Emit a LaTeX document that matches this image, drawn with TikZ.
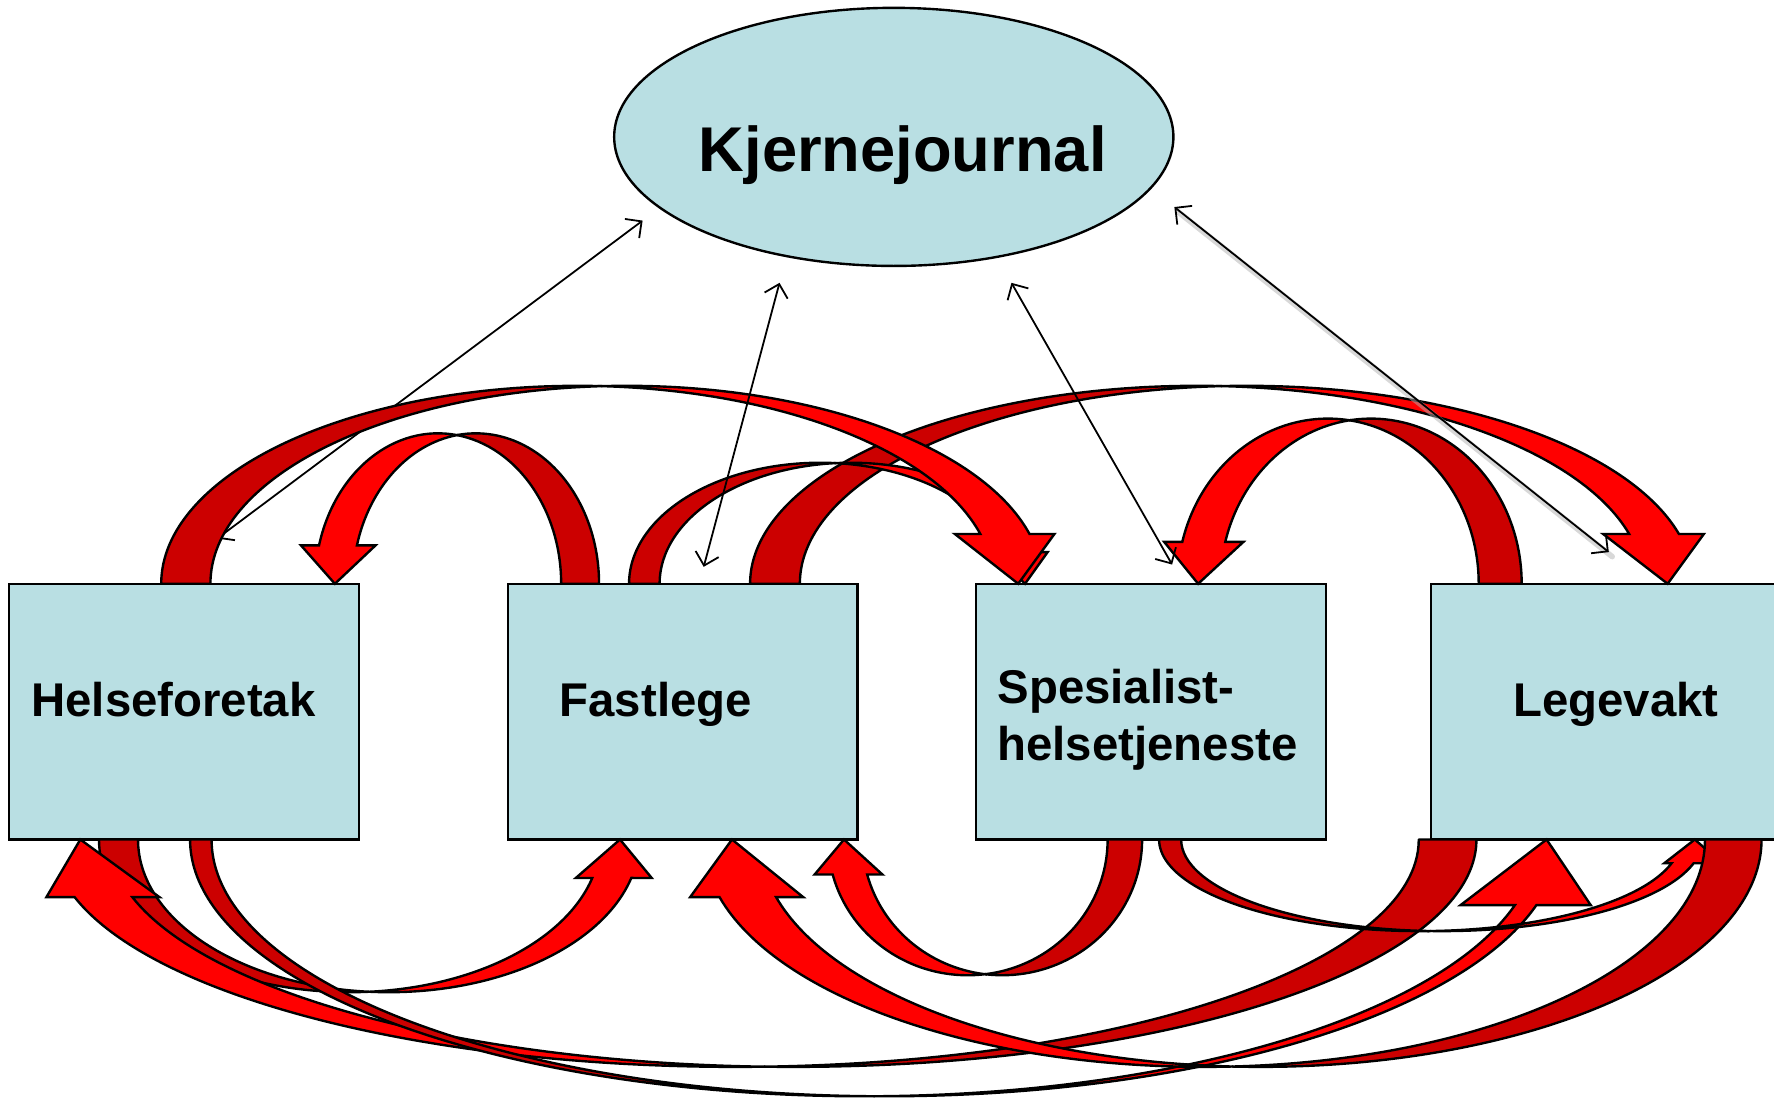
\documentclass[tikz,border=0pt]{standalone}
\usepackage{fontspec}
\setmainfont{Liberation Sans}
\usetikzlibrary{arrows.meta,shapes.geometric}
\definecolor{boxblue}{RGB}{185,223,227}
\definecolor{dred}{RGB}{204,0,0}
\definecolor{bred}{RGB}{255,0,0}

% curved block arrow: two equal ellipses (centre height = box edge yb),
% shifted horizontally by the band thickness d
\pgfkeys{/carr/.is family}
\pgfkeys{/carr/.cd,
  ya/.store in=\cYa, yb/.store in=\cYb,
  bi/.store in=\cBi, fo/.store in=\cFo, d/.store in=\cD, yh/.store in=\cYh,
  ho/.store in=\cHo, hi/.store in=\cHi, tip/.store in=\cTip}

\newcommand\carrow[1]{%
  \pgfkeys{/carr/.cd,#1}%
  \pgfmathsetmacro\cRy{abs(\cYa-\cYb)}%
  \pgfmathsetmacro\cSig{ifthenelse(\cYa<\cYb,-1,1)}%
  \pgfmathsetmacro\cS{ifthenelse(\cBi>\cFo,1,-1)}%
  \pgfmathsetmacro\cT{asin(abs(\cYh-\cYb)/\cRy)}%
  \pgfmathsetmacro\cR{abs(\cBi-\cFo)/(1+cos(\cT))}%
  \pgfmathsetmacro\cBo{\cBi+(\cS)*\cD}%
  \pgfmathsetmacro\cFi{\cFo+(\cS)*\cD}%
  \pgfmathsetmacro\cCp{\cBi-(\cS)*\cR}%
  \pgfmathsetmacro\cXx{\cCp+(\cS)*\cD/2}%
  \pgfmathsetmacro\cAxp{(\cSig)*acos((\cS)*\cD/(2*\cR))}%
  \pgfmathsetmacro\cAxq{(\cSig)*acos(-1*(\cS)*\cD/(2*\cR))}%
  \pgfmathsetmacro\cXy{\cYb+\cRy*sin(\cAxp)}%
  \pgfmathsetmacro\cAb{ifthenelse(\cS>0,0,(\cSig)*180)}%
  \pgfmathsetmacro\cAf{ifthenelse(\cS>0,(\cSig)*(180-\cT),(\cSig)*\cT)}%
  \filldraw[backpart] (\cBo,\cYb)
     arc[start angle=\cAb, end angle=\cAxq, x radius=\cR, y radius=\cRy]
     arc[start angle=\cAxp, end angle=\cAb, x radius=\cR, y radius=\cRy] -- cycle;
  \filldraw[frontpart] (\cXx,\cXy)
     arc[start angle=\cAxp, end angle=\cAf, x radius=\cR, y radius=\cRy]
     -- (\cHo,\cYh) -- (\cTip,\cYb) -- (\cHi,\cYh) -- (\cFi,\cYh)
     arc[start angle=\cAf, end angle=\cAxq, x radius=\cR, y radius=\cRy] -- cycle;
}

\tikzset{
  box/.style={draw=black, line width=0.6pt, fill=boxblue, rectangle,
    minimum width=3.09cm, minimum height=2.26cm, inner sep=0pt},
  lbl/.style={font=\bfseries\fontsize{11.9}{14.3}\selectfont, anchor=base west, inner sep=0pt},
  backpart/.style={fill=dred, draw=black, line width=0.6pt, line join=round},
  frontpart/.style={fill=bred, draw=black, line width=0.6pt, line join=miter},
  jline/.style={draw=black, line width=0.45pt,
    {Straight Barb[length=3pt,width=6pt]}-{Straight Barb[length=3pt,width=6pt]}},
  jshadow/.style={draw=black!30, line width=1.4pt, opacity=0.5, line cap=round},
}

\begin{document}
\begin{tikzpicture}[x=0.01cm, y=-0.01cm]
\useasboundingbox (0,0) rectangle (1568,970);
\fill[white] (0,0) rectangle (1568,970);

% main shapes
\node[ellipse, draw=black, line width=0.6pt, fill=boxblue,
  minimum width=4.94cm, minimum height=2.28cm, inner sep=0pt] (kj) at (790,121) {};
\node[box] (hf) at (162.5,629) {};
\node[box] (fl) at (603.5,629) {};
\node[box] (sp) at (1017.5,629) {};
\node[box] (lv) at (1419.5,629) {};

% end points of the thin connectors
\coordinate (j1a) at (568,195);  \coordinate (j1b) at (192,476);
\coordinate (j2a) at (689,250);  \coordinate (j2b) at (622,501);
\coordinate (j3a) at (894,250);  \coordinate (j3b) at (1036,499);
\coordinate (j4a) at (1038,183); \coordinate (j4b) at (1422,488);

\draw[jline] (j1a) -- (j1b);

% curved arrows above the boxes
\carrow{ya=383, yb=516, bi=496, fo=282, d=33.5, yh=482, ho=266, hi=332, tip=296}
\carrow{ya=370, yb=516, bi=1307, fo=1045, d=38, yh=479, ho=1029, hi=1099, tip=1059}
\carrow{ya=341, yb=516, bi=707, fo=1484, d=44, yh=472, ho=1506, hi=1417, tip=1474}
\carrow{ya=409, yb=516, bi=583, fo=915, d=27, yh=488, ho=926, hi=878, tip=906}
\carrow{ya=341, yb=516, bi=186, fo=910, d=43.5, yh=472, ho=932, hi=844, tip=900}

% curved arrows below the boxes
\carrow{ya=877, yb=742, bi=122, fo=558, d=34.5, yh=776, ho=576, hi=509, tip=548}
\carrow{ya=862, yb=742, bi=979, fo=736, d=30.5, yh=773, ho=720, hi=780, tip=746}
\carrow{ya=943, yb=742, bi=1254, fo=66, d=51, yh=793, ho=41, hi=141, tip=71}
\carrow{ya=969, yb=742, bi=187, fo=1358, d=19, yh=800, ho=1406, hi=1291, tip=1367}
\carrow{ya=823, yb=742, bi=1044, fo=1497, d=19.5, yh=763, ho=1522, hi=1471, tip=1498}
\carrow{ya=943, yb=742, bi=1507, fo=636, d=50, yh=793, ho=610, hi=710, tip=647}

% thin connectors on top
\draw[jline] (j2a) -- (j2b);
\draw[jline] (j3a) -- (j3b);
\draw[jshadow] ([shift={(3,4)}]j4a) -- ([shift={(3,4)}]j4b);
\draw[jline] (j4a) -- (j4b);

% texts
\node[font=\bfseries\fontsize{15.9}{19}\selectfont, anchor=base west, inner sep=0pt] (kjt) at (617,152) {Kjernejournal};
\node[lbl] (hft) at (27,633) {Helseforetak};
\node[lbl] (flt) at (494,633) {Fastlege};
\node[lbl] (spt1) at (881,621.6) {Spesialist-};
\node[lbl] (spt2) at (881,672) {helsetjeneste};
\node[lbl] (lvt) at (1337,633) {Legevakt};
\end{tikzpicture}
\end{document}
